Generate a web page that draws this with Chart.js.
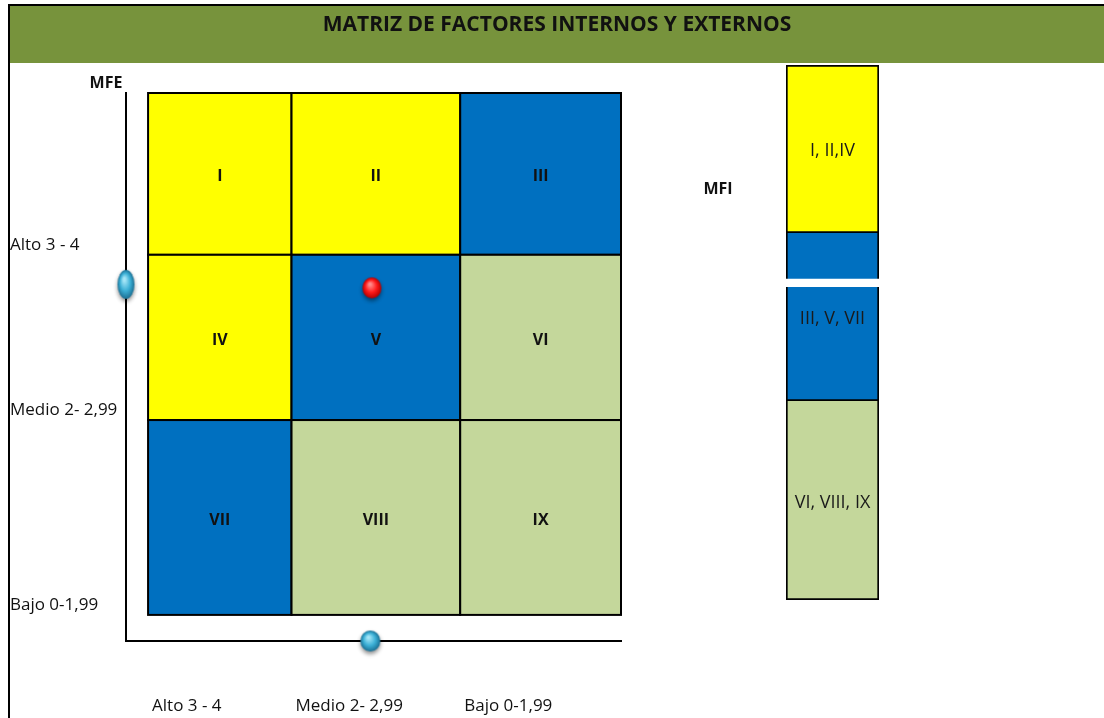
<!DOCTYPE html>
<html>
<head>
<meta charset="utf-8">
<title>Matriz IE</title>
<script src="https://cdn.jsdelivr.net/npm/chart.js@4/dist/chart.umd.min.js"></script>
<style>
  html, body { margin: 0; padding: 0; background: #fff; }
  body { width: 1104px; height: 718px; position: relative; overflow: hidden; }
  #matrix { position: absolute; left: 0; top: 0; }
  #mfi { position: absolute; left: 776px; top: 55px; }
</style>
</head>
<body>
<canvas id="matrix" width="1104" height="718"></canvas>
<canvas id="mfi" width="113" height="555"></canvas>
<script>
// ---- data ----
const chartTitle = 'MATRIZ DE FACTORES INTERNOS Y EXTERNOS';
const colLabels = ['Alto 3 - 4', 'Medio 2- 2,99', 'Bajo 0-1,99']; // MFI (x)
const rowLabels = ['Alto 3 - 4', 'Medio 2- 2,99', 'Bajo 0-1,99']; // MFE (y)
const colEdges = [0, 0.91, 1.98, 3];      // left -> right
const rowEdges = [3, 2.07, 1.12, 0];      // top -> bottom
const cellNames = [
  ['I', 'II', 'III'],
  ['IV', 'V', 'VI'],
  ['VII', 'VIII', 'IX'],
];
const cellZones = [
  [0, 0, 1],
  [0, 1, 2],
  [1, 2, 2],
];
const mfeMarker = 1.9;   // ball on the MFE axis
const mfiMarker = 1.41;  // ball on the MFI axis
const companyPos = [{ x: 1.42, y: 1.88 }];

const mfiZones = ['I, II,IV', 'III, V, VII', 'VI, VIII, IX'];
const mfiHeights = [1.68, 1.68, 1.99];  // top -> bottom
const mfiBreak = [0.46, 0.08];          // white cut inside the middle band: offset from top, size

// styles
const zoneColors = ['#FFFF00', '#0070C0', '#C4D79B'];
const FONT = '"Open Sans", "Noto Sans", sans-serif';
const xMin = -0.14, yMin = -0.15;

// little shaded balls used as point styles
const makeBall = (w, h, light, mid, dark) => {
  const pad = 7;
  const c = document.createElement('canvas');
  c.width = w + pad * 2;
  c.height = h + pad * 2;
  const g = c.getContext('2d');
  g.translate(c.width / 2, c.height / 2);
  g.scale(1, h / w);
  g.shadowColor = 'rgba(0,0,0,0.45)';
  g.shadowBlur = 4;
  g.shadowOffsetY = 2.5;
  const r = w / 2;
  const grad = g.createRadialGradient(-r * 0.2, -r * 0.35, 1, 0, 0, r);
  grad.addColorStop(0, light);
  grad.addColorStop(0.55, mid);
  grad.addColorStop(1, dark);
  g.fillStyle = grad;
  g.beginPath();
  g.arc(0, 0, r, 0, Math.PI * 2);
  g.fill();
  return c;
};
const ballTall = makeBall(17, 29, '#a6e6f7', '#3cb0d6', '#1b6f93');
const ballRound = makeBall(20, 21, '#a6e6f7', '#3cb0d6', '#1b6f93');
const ballRed = makeBall(19, 21, '#ff8a8a', '#ff1a1a', '#b30000');

const framePlugin = {
  id: 'frame',
  beforeDraw(chart) {
    const ctx = chart.ctx;
    ctx.save();
    ctx.fillStyle = '#fff';
    ctx.fillRect(0, 0, chart.width, chart.height);
    ctx.fillStyle = '#77933C';
    ctx.fillRect(9, 6, chart.width - 9, 57);
    ctx.fillStyle = '#000';
    ctx.fillRect(8, 4, chart.width - 8, 2);
    ctx.fillRect(8, 4, 2, chart.height - 4);
    ctx.restore();
  },
};

const cellsPlugin = {
  id: 'cells',
  beforeDatasetsDraw(chart) {
    const { ctx, scales: { x, y } } = chart;
    ctx.save();
    cellNames.forEach((row, r) => {
      row.forEach((name, c) => {
        const x0 = x.getPixelForValue(colEdges[c]);
        const x1 = x.getPixelForValue(colEdges[c + 1]);
        const y0 = y.getPixelForValue(rowEdges[r]);
        const y1 = y.getPixelForValue(rowEdges[r + 1]);
        ctx.fillStyle = zoneColors[cellZones[r][c]];
        ctx.fillRect(x0, y0, x1 - x0, y1 - y0);
        ctx.strokeStyle = '#000';
        ctx.lineWidth = 2;
        ctx.strokeRect(x0, y0, x1 - x0, y1 - y0);
        ctx.fillStyle = '#111';
        ctx.font = 'bold 16px ' + FONT;
        ctx.textAlign = 'center';
        ctx.textBaseline = 'middle';
        ctx.fillText(name, (x0 + x1) / 2, (y0 + y1) / 2 + 3);
      });
    });
    ctx.restore();
  },
  afterDraw(chart) {
    const ctx = chart.ctx;
    const { x, y } = chart.scales;
    ctx.save();
    ctx.fillStyle = '#111';
    ctx.font = 'bold 16px ' + FONT;
    ctx.textAlign = 'center';
    ctx.textBaseline = 'middle';
    ctx.fillText('MFE', x.getPixelForValue(xMin) - 20, y.getPixelForValue(rowEdges[0]) - 10);
    ctx.fillText('MFI', 718, 189);
    ctx.restore();
  },
};

new Chart(document.getElementById('matrix'), {
  type: 'scatter',
  data: {
    datasets: [
      { data: [{ x: xMin, y: mfeMarker }], pointStyle: ballTall, clip: false },
      { data: [{ x: mfiMarker, y: yMin }], pointStyle: ballRound, clip: false },
      { data: companyPos, pointStyle: ballRed, clip: false },
    ],
  },
  options: {
    responsive: false,
    animation: false,
    devicePixelRatio: 1,
    layout: { padding: { left: 10, right: 0, top: 0, bottom: 0 } },
    scales: {
      x: {
        type: 'linear',
        min: xMin,
        max: 3,
        grid: { display: false },
        border: { display: true, color: '#000', width: 2 },
        afterBuildTicks: (scale) => {
          scale.ticks = colEdges.slice(0, 3).map((v) => ({ value: v }));
        },
        afterFit: (scale) => { scale.height = 77; },
        ticks: {
          autoSkip: false,
          maxRotation: 0,
          align: 'start',
          labelOffset: 4,
          padding: 47,
          color: '#111',
          font: { family: FONT, size: 17 },
          callback: (v, i) => colLabels[i],
        },
      },
      y: {
        type: 'linear',
        min: yMin,
        max: 3,
        grid: { display: false },
        border: { display: true, color: '#000', width: 2 },
        afterBuildTicks: (scale) => {
          scale.ticks = rowEdges.slice(1).map((v) => ({ value: v }));
        },
        afterFit: (scale) => { scale.width = 116; },
        ticks: {
          autoSkip: false,
          crossAlign: 'far',
          labelOffset: -10,
          color: '#111',
          font: { family: FONT, size: 17 },
          callback: (v, i) => rowLabels[i],
        },
      },
      yRight: {
        type: 'linear',
        position: 'right',
        display: true,
        grid: { display: false },
        border: { display: false },
        ticks: { display: false },
        afterFit: (scale) => { scale.width = 483; },
      },
    },
    plugins: {
      legend: { display: false },
      tooltip: { enabled: false },
      title: {
        display: true,
        text: chartTitle,
        color: '#111',
        font: { family: FONT, size: 21, weight: 'bold' },
        padding: { top: 12.8, bottom: 55 },
      },
    },
  },
  plugins: [framePlugin, cellsPlugin],
});

// ---- MFI column ----
const mfiTotal = mfiHeights.reduce((a, b) => a + b, 0);
const side = { left: 2, right: 2, top: 0, bottom: 0 };
const mfiSets = [
  { data: [mfiHeights[2]], backgroundColor: zoneColors[2], borderWidth: { ...side, bottom: 2 } },
  { data: [mfiHeights[1] - mfiBreak[0] - mfiBreak[1]], backgroundColor: zoneColors[1], borderWidth: { ...side, bottom: 2 } },
  { data: [mfiBreak[1]], backgroundColor: '#fff', borderWidth: 0 },
  { data: [mfiBreak[0]], backgroundColor: zoneColors[1], borderWidth: side },
  { data: [mfiHeights[0]], backgroundColor: zoneColors[0], borderWidth: { left: 2, right: 2, top: 2, bottom: 2 } },
];

const mfiLabelsPlugin = {
  id: 'mfiLabels',
  afterDatasetsDraw(chart) {
    const { ctx, chartArea, scales: { y } } = chart;
    ctx.save();
    ctx.fillStyle = '#1a1a1a';
    ctx.font = '18px ' + FONT;
    ctx.textAlign = 'center';
    ctx.textBaseline = 'middle';
    let top = mfiTotal;
    mfiZones.forEach((label, i) => {
      const mid = top - mfiHeights[i] / 2;
      ctx.fillText(label, (chartArea.left + chartArea.right) / 2, y.getPixelForValue(mid) + 2);
      top -= mfiHeights[i];
    });
    ctx.restore();
  },
};

new Chart(document.getElementById('mfi'), {
  type: 'bar',
  data: {
    labels: ['MFI'],
    datasets: mfiSets.map((d) => ({
      ...d,
      borderColor: '#000',
      borderSkipped: false,
      barPercentage: 1,
      categoryPercentage: 1,
    })),
  },
  options: {
    responsive: false,
    animation: false,
    devicePixelRatio: 1,
    layout: { padding: { left: 10, right: 10, top: 10, bottom: 10 } },
    scales: {
      x: { display: false, stacked: true },
      y: { display: false, stacked: true, min: 0, max: mfiTotal },
    },
    plugins: {
      legend: { display: false },
      tooltip: { enabled: false },
    },
  },
  plugins: [mfiLabelsPlugin],
});
</script>
</body>
</html>
